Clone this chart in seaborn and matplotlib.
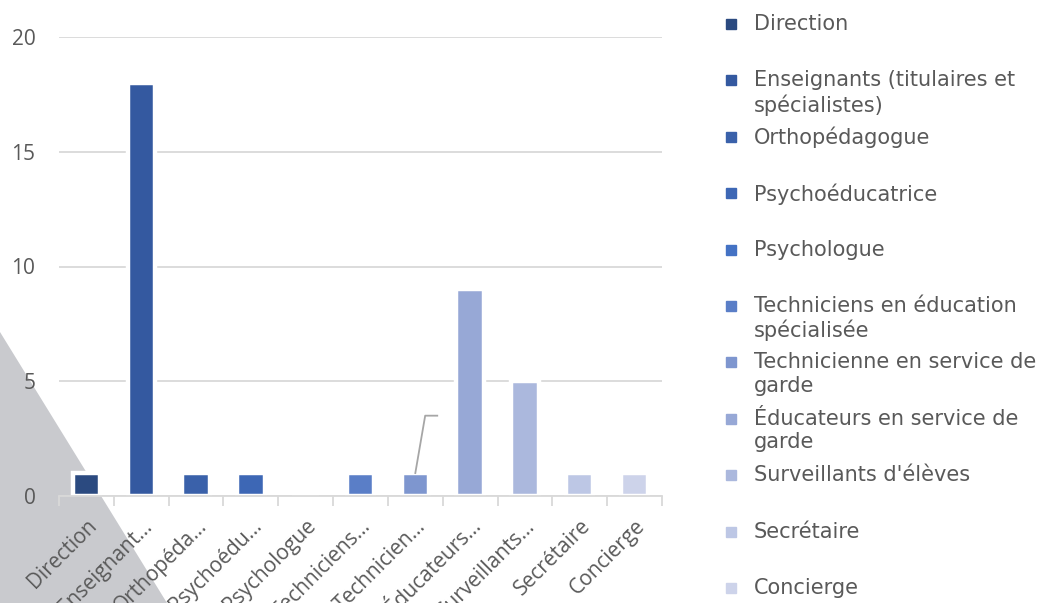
import numpy as np
import pandas as pd
import matplotlib.pyplot as plt
from matplotlib.patches import Polygon
from matplotlib.lines import Line2D
import seaborn as sns

# données
categories = ["Direction", "Enseignants (titulaires et\nspécialistes)", "Orthopédagogue",
              "Psychoéducatrice", "Psychologue", "Techniciens en éducation\nspécialisée",
              "Technicienne en service de\ngarde", "Éducateurs en service de\ngarde",
              "Surveillants d'élèves", "Secrétaire", "Concierge"]
tick_labels = ["Direction", "Enseignant…", "Orthopéda…", "Psychoédu…", "Psychologue",
               "Techniciens…", "Technicien…", "Éducateurs…", "Surveillants…",
               "Secrétaire", "Concierge"]
valeurs = [1, 18, 1, 1, 0, 1, 1, 9, 5, 1, 1]
couleurs = ["#2B4A80", "#3459A0", "#3A61AA", "#3D67B5", "#4472C4", "#5A7EC7",
            "#7E96CF", "#97A8D6", "#ABB8DD", "#BDC7E5", "#CDD3EA"]

W, H = 1037, 603
fig = plt.figure(figsize=(W / 100, H / 100), dpi=100)

# triangle gris en bas à gauche
fig.patches.append(Polygon([(0, 1 - 332 / H), (0, 0), (167 / W, 0)], closed=True,
                           transform=fig.transFigure, facecolor="#C9CACE",
                           edgecolor="none", zorder=-5))

ax = fig.add_axes([59 / W, 1 - 496 / H, (662 - 59) / W, (496 - 37) / H])
ax.patch.set_alpha(0)

df = pd.DataFrame({"cat": categories, "val": valeurs})
sns.barplot(data=df, x="cat", y="val", hue="cat", palette=couleurs, legend=False,
            width=0.5, edgecolor="white", linewidth=3.2, saturation=1, ax=ax, zorder=2)

ax.set_xlim(-0.5, len(categories) - 0.5)
ax.set_ylim(0, 20)
ax.set_yticks([0, 5, 10, 15, 20])
ax.yaxis.grid(True, color="#D9D9D9", linewidth=1.3)
ax.set_axisbelow(True)
ax.set_xlabel("")
ax.set_ylabel("")

for s in ["top", "right", "left"]:
    ax.spines[s].set_visible(False)
ax.spines["bottom"].set_color("#D9D9D9")
ax.spines["bottom"].set_linewidth(1.3)

ax.set_xticks(range(len(categories)))
ax.set_xticklabels(tick_labels, rotation=45, ha="right", rotation_mode="anchor",
                   fontsize=15, color="#595959", family="Open Sans")
ax.set_xticks(np.arange(-0.5, len(categories)), minor=True)
ax.tick_params(axis="x", which="major", length=0, pad=14)
ax.tick_params(axis="x", which="minor", length=7, width=1.3, color="#D9D9D9")
ax.tick_params(axis="y", length=0, pad=17, labelsize=15, labelcolor="#595959")
for t in ax.get_yticklabels():
    t.set_family("Open Sans")

# ligne de rappel (étiquette de données)
i = 6
ax.plot([i, i + 0.18, i + 0.4], [valeurs[i], 3.5, 3.5], color="#A6A6A6", lw=1.3, zorder=3)

# légende
for k, (lab, c) in enumerate(zip(categories, couleurs)):
    yc = 24 + k * 56.4
    fig.add_artist(Line2D([731 / W], [1 - yc / H], marker="s", markersize=6.5,
                          color=c, transform=fig.transFigure, linestyle="none"))
    fig.text(754 / W, 1 - (yc - 10) / H, lab, va="top", ha="left", fontsize=15,
             color="#595959", family="DejaVu Sans", linespacing=1.22)

fig.savefig("out.png", dpi=100)
